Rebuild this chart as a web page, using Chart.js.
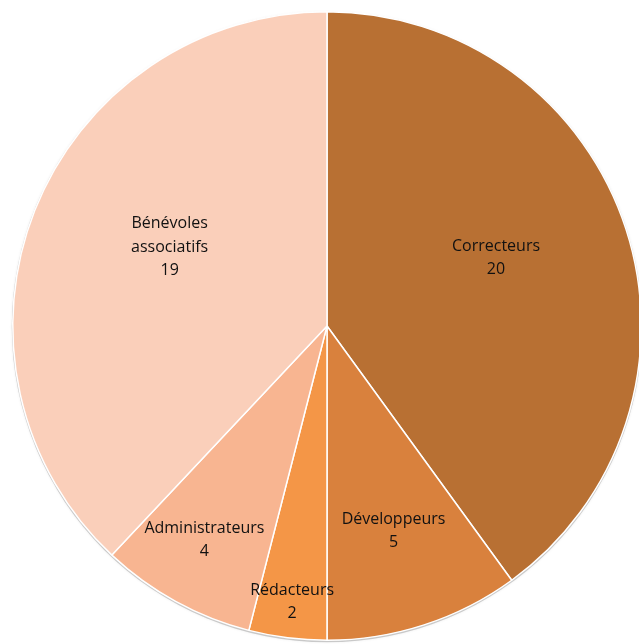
<!DOCTYPE html>
<html>
<head>
<meta charset="utf-8">
<script src="https://cdn.jsdelivr.net/npm/chart.js@4"></script>
<style>
  html, body { margin: 0; padding: 0; background: #fff; overflow: hidden; width: 639px; height: 644px; }
  #wrap { position: absolute; left: 0; top: 0; width: 654px; height: 652px; }
</style>
</head>
<body>
<div id="wrap"><canvas id="c"></canvas></div>
<script>
const categories = ["Correcteurs", "Développeurs", "Rédacteurs", "Administrateurs", "Bénévoles associatifs"];
const labelLines = [["Correcteurs"], ["Développeurs"], ["Rédacteurs"], ["Administrateurs"], ["Bénévoles", "associatifs"]];
const values = [20, 5, 2, 4, 19];
const colors = ["#B87033", "#D9813D", "#F49647", "#F8B591", "#FACFBA"];

const labelPlugin = {
  id: 'sliceLabels',
  afterDatasetsDraw(chart, args, opts) {
    const ctx = chart.ctx;
    const meta = chart.getDatasetMeta(0);
    ctx.save();
    ctx.font = '16px "Open Sans", "DejaVu Sans", sans-serif';
    ctx.fillStyle = '#111111';
    ctx.textAlign = 'center';
    ctx.textBaseline = 'middle';
    meta.data.forEach((arc, i) => {
      const p = arc.getProps(['x', 'y', 'startAngle', 'endAngle', 'outerRadius'], true);
      const mid = (p.startAngle + p.endAngle) / 2 + (opts.angleShift[i] || 0) * Math.PI / 180;
      const r = p.outerRadius * opts.radial[i];
      const cx = p.x + Math.cos(mid) * r;
      const cy = p.y + Math.sin(mid) * r;
      const lines = labelLines[i].concat([String(values[i])]);
      const lh = 23.5;
      const y0 = cy - (lines.length - 1) * lh / 2;
      lines.forEach((t, k) => ctx.fillText(t, cx, y0 + k * lh));
    });
    ctx.restore();
  }
};

const shadowPlugin = {
  id: 'pieShadow',
  beforeDatasetsDraw(chart) {
    const ctx = chart.ctx;
    const meta = chart.getDatasetMeta(0);
    const a = meta.data[0];
    ctx.save();
    ctx.beginPath();
    ctx.arc(a.x, a.y + 1, a.outerRadius + 1, 0, Math.PI * 2);
    ctx.fillStyle = 'rgba(0,0,0,0.18)';
    ctx.shadowColor = 'rgba(0,0,0,0.35)';
    ctx.shadowBlur = 3;
    ctx.fill();
    ctx.restore();
  }
};

new Chart(document.getElementById('c'), {
  type: 'pie',
  data: {
    labels: categories,
    datasets: [{
      data: values,
      backgroundColor: colors,
      borderColor: '#ffffff',
      borderWidth: 1.5
    }]
  },
  options: {
    responsive: true,
    maintainAspectRatio: false,
    animation: false,
    layout: { padding: { left: 12, right: 12, top: 11, bottom: 11 } },
    plugins: {
      legend: { display: false },
      tooltip: { enabled: false },
      sliceLabels: {
        radial: [0.58, 0.685, 0.885, 0.785, 0.56],
        angleShift: [-4, 0, 0, 1, 5]
      }
    }
  },
  plugins: [shadowPlugin, labelPlugin]
});
</script>
</body>
</html>
